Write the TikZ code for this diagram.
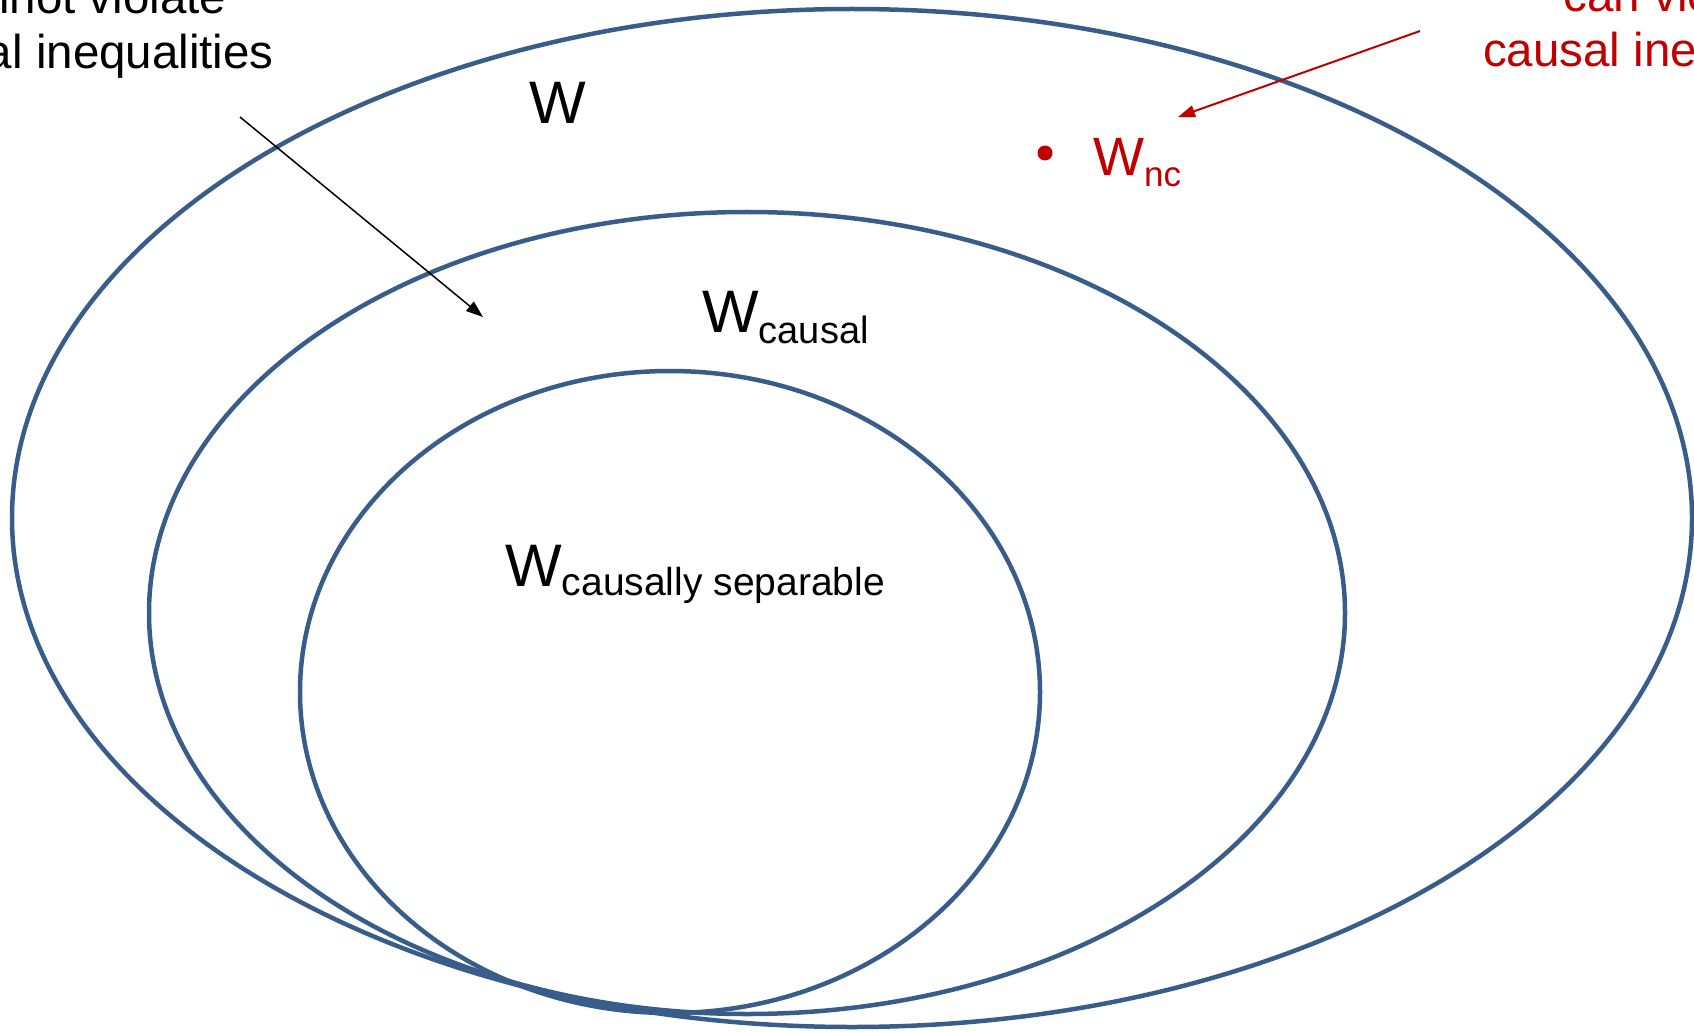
\documentclass[tikz,border=0pt]{standalone}
\usepackage{fontspec}
\setmainfont{Liberation Sans}
\usetikzlibrary{arrows.meta,shapes.geometric}
\definecolor{setblue}{RGB}{56,93,138}
\definecolor{ncred}{RGB}{192,0,0}
\begin{document}
\begin{tikzpicture}[x=1pt,y=-1pt,
  setline/.style={draw=setblue,line width=4.5pt,ellipse,inner sep=0pt,outer sep=0pt},
  lbl/.style={inner sep=0pt,anchor=base west},
  side/.style={inner sep=0pt,anchor=base,font=\fontsize{47.5}{57}\selectfont},
  thinarrow/.style={line width=1.5pt,-{Triangle[length=17pt,width=12pt]}}]
\useasboundingbox (0,0) rectangle (1694,1032);
% sets
\node[setline,minimum width=1680pt,minimum height=1018pt] (outer) at (852,518) {};
\node[setline,minimum width=1196pt,minimum height=802pt] (middle) at (747,613) {};
\node[setline,minimum width=740pt,minimum height=642pt] (inner) at (670,692) {};
% labels
\node[lbl] (wlab) at (529,124) {\fontsize{60}{72}\selectfont W};
\node[lbl] (wcausal) at (702,332) {{\fontsize{60}{72}\selectfont W}\raisebox{-11pt}{\fontsize{38}{46}\selectfont causal}};
\node[lbl] (wsep) at (505,586) {{\fontsize{60}{72}\selectfont W}\raisebox{-9pt}{\fontsize{39}{46}\selectfont causally separable}};
\node[fill=ncred,circle,inner sep=0pt,minimum size=15pt] (dot) at (1045,153) {};
\node[lbl,text=ncred] (wnc) at (1093,176) {{\fontsize{54}{65}\selectfont W}\raisebox{-11pt}{\fontsize{35}{42}\selectfont nc}};
% side texts (left, black)
\node[side,anchor=base east] (l2) at (274,69) {causal inequalities};
\coordinate (l1y) at (0,14);
\node[side] (l1) at (l2.center |- l1y) {cannot violate};
% side texts (right, red)
\node[side,anchor=base west,text=ncred] (r2) at (1483,67) {causal inequalities};
\coordinate (r1y) at (0,12);
\node[side,text=ncred] (r1) at (r2.center |- r1y) {can violate};
% arrows
\coordinate (a1s) at (240,117);
\coordinate (a1e) at (483,317);
\draw[thinarrow,black] (a1s) -- (a1e);
\coordinate (a2s) at (1420,31);
\coordinate (a2e) at (1178,117);
\draw[thinarrow,draw=ncred,fill=ncred,line width=2pt] (a2s) -- (a2e);
\end{tikzpicture}
\end{document}
